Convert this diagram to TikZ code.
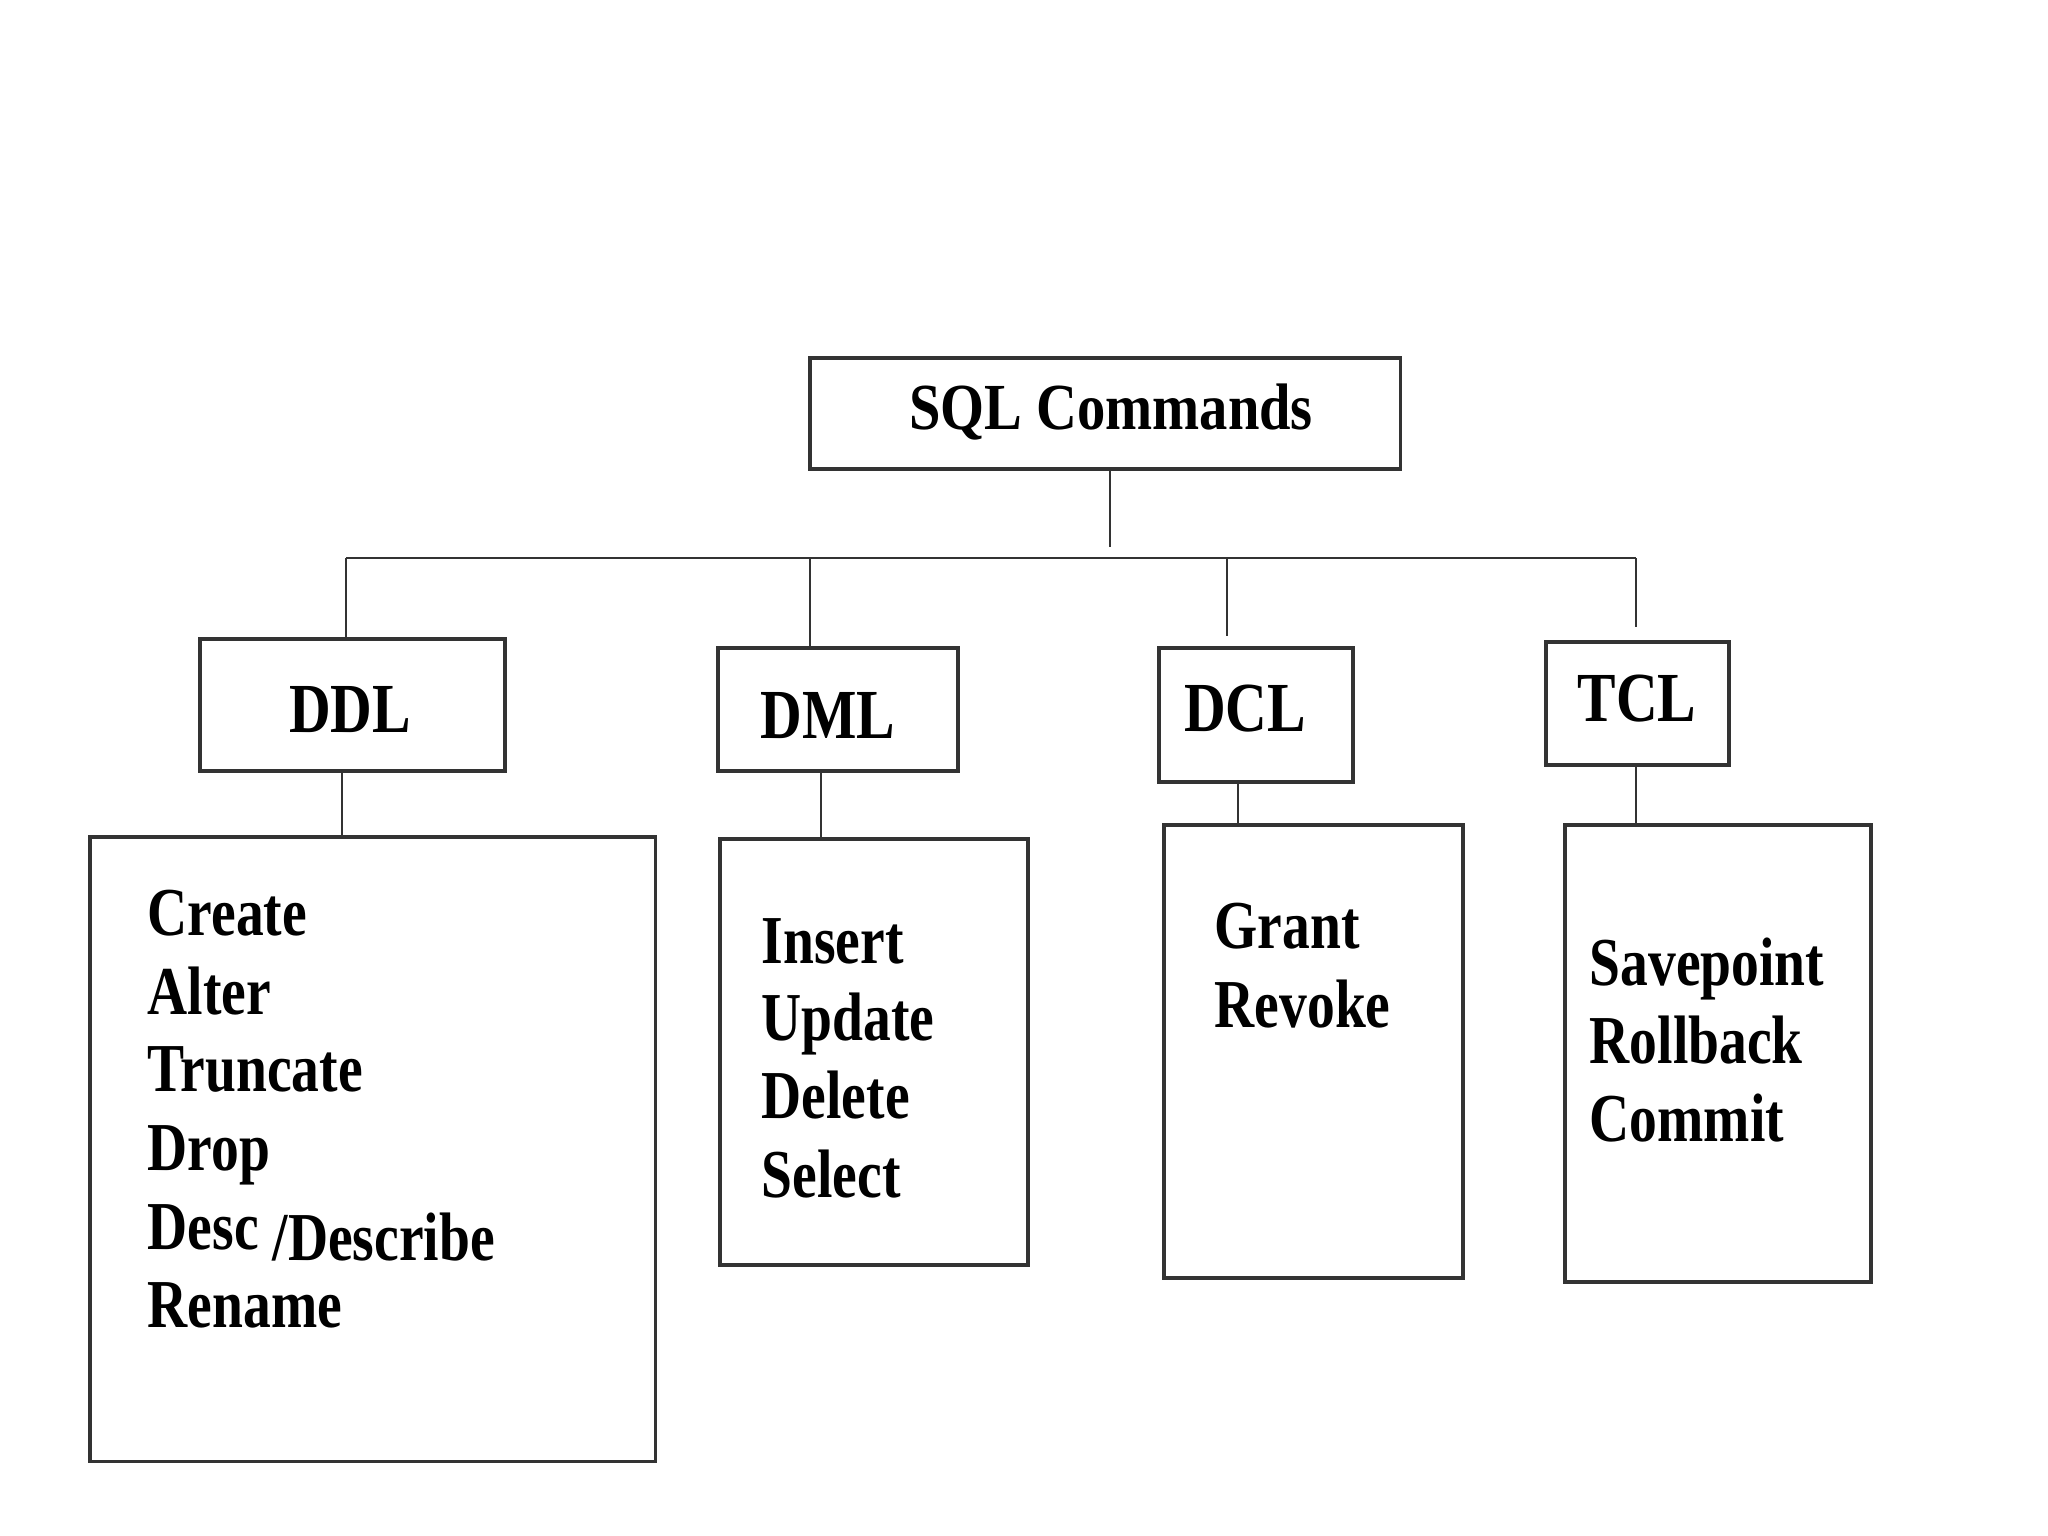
\documentclass[tikz,border=0pt]{standalone}
\usepackage{fontspec}
\newfontfamily\itemfont[FakeStretch=0.81]{Liberation Serif}
\newfontfamily\headfont[FakeStretch=0.82]{Liberation Serif}
\newfontfamily\titlefont[FakeStretch=0.86]{Liberation Serif}
\definecolor{linegray}{HTML}{333333}
\begin{document}
\begin{tikzpicture}[x=0.01cm,y=-0.01cm,
  box/.style={draw=linegray, line width=0.95pt, inner sep=0pt, rectangle},
  conn/.style={draw=linegray, line width=0.8pt},
  head/.style={anchor=base, inner sep=0pt, font=\headfont\bfseries\fontsize{20}{24}\selectfont},
  title/.style={anchor=base, inner sep=0pt, font=\titlefont\bfseries\fontsize{18.7}{22}\selectfont},
  item/.style={anchor=base west, inner sep=0pt, font=\itemfont\bfseries\fontsize{19.5}{23}\selectfont}]
\useasboundingbox[fill=white] (0,0) rectangle (2048,1536);

% top box
\node[box, minimum width=5.90cm, minimum height=1.11cm] (sql) at (1105,413.5) {};
\node[title] (sqlt) at (1111,429) {SQL Commands};

% category boxes
\node[box, minimum width=3.05cm, minimum height=1.32cm] (ddl) at (352.5,705) {};
\node[box, minimum width=2.40cm, minimum height=1.23cm] (dml) at (838,709.5) {};
\node[box, minimum width=1.94cm, minimum height=1.34cm] (dcl) at (1256,715) {};
\node[box, minimum width=1.83cm, minimum height=1.23cm] (tcl) at (1637.5,703.5) {};
\node[head] (ddlt) at (350,732) {DDL};
\node[head] (dmlt) at (828,738) {DML};
\node[head] (dclt) at (1245,731) {DCL};
\node[head] (tclt) at (1637,721) {TCL};

% list boxes
\node[box, minimum width=5.65cm, minimum height=6.24cm] (ddll) at (372.5,1149) {};
\node[box, minimum width=3.08cm, minimum height=4.26cm] (dmll) at (874,1052) {};
\node[box, minimum width=2.99cm, minimum height=4.53cm] (dcll) at (1313.5,1051.5) {};
\node[box, minimum width=3.06cm, minimum height=4.57cm] (tcll) at (1718,1053.5) {};

% list items
\node[item] (i1) at (147,935) {Create};
\node[item] (i2) at (147,1014) {Alter};
\node[item] (i3) at (147,1091) {Truncate};
\node[item] (i4) at (147,1170) {Drop};
\node[item] (i5) at (147,1249) {Desc \raisebox{-1.1mm}{/Describe}};
\node[item] (i6) at (147,1327) {Rename};

\node[item] (m1) at (761,963) {Insert};
\node[item] (m2) at (761,1040) {Update};
\node[item] (m3) at (761,1118) {Delete};
\node[item] (m4) at (761,1197) {Select};

\node[item] (c1) at (1214,948) {Grant};
\node[item] (c2) at (1214,1027) {Revoke};

\node[item] (t1) at (1589,985) {Savepoint};
\node[item] (t2) at (1589,1063) {Rollback};
\node[item] (t3) at (1589,1141) {Commit};

% connectors
\coordinate (trunkend) at (1110,547);
\coordinate (busL) at (346,558);
\coordinate (busR) at (1636,558);
\coordinate (busdml) at (810,558);
\coordinate (busdcl) at (1227,558);
\coordinate (dclend) at (1227,636);
\coordinate (tclend) at (1636,627);

\draw[conn] (sql.south -| trunkend) -- (trunkend);
\draw[conn] (busL) -- (busR);
\draw[conn] (busL) -- (busL |- ddl.north);
\draw[conn] (busdml) -- (busdml |- dml.north);
\draw[conn] (busdcl) -- (dclend);
\draw[conn] (busR) -- (tclend);

\coordinate (ddlx) at (342,0);
\coordinate (dmlx) at (821,0);
\coordinate (dclx) at (1238,0);
\coordinate (tclx) at (1636,0);
\draw[conn] (ddl.south -| ddlx) -- (ddll.north -| ddlx);
\draw[conn] (dml.south -| dmlx) -- (dmll.north -| dmlx);
\draw[conn] (dcl.south -| dclx) -- (dcll.north -| dclx);
\draw[conn] (tcl.south -| tclx) -- (tcll.north -| tclx);
\end{tikzpicture}
\end{document}
